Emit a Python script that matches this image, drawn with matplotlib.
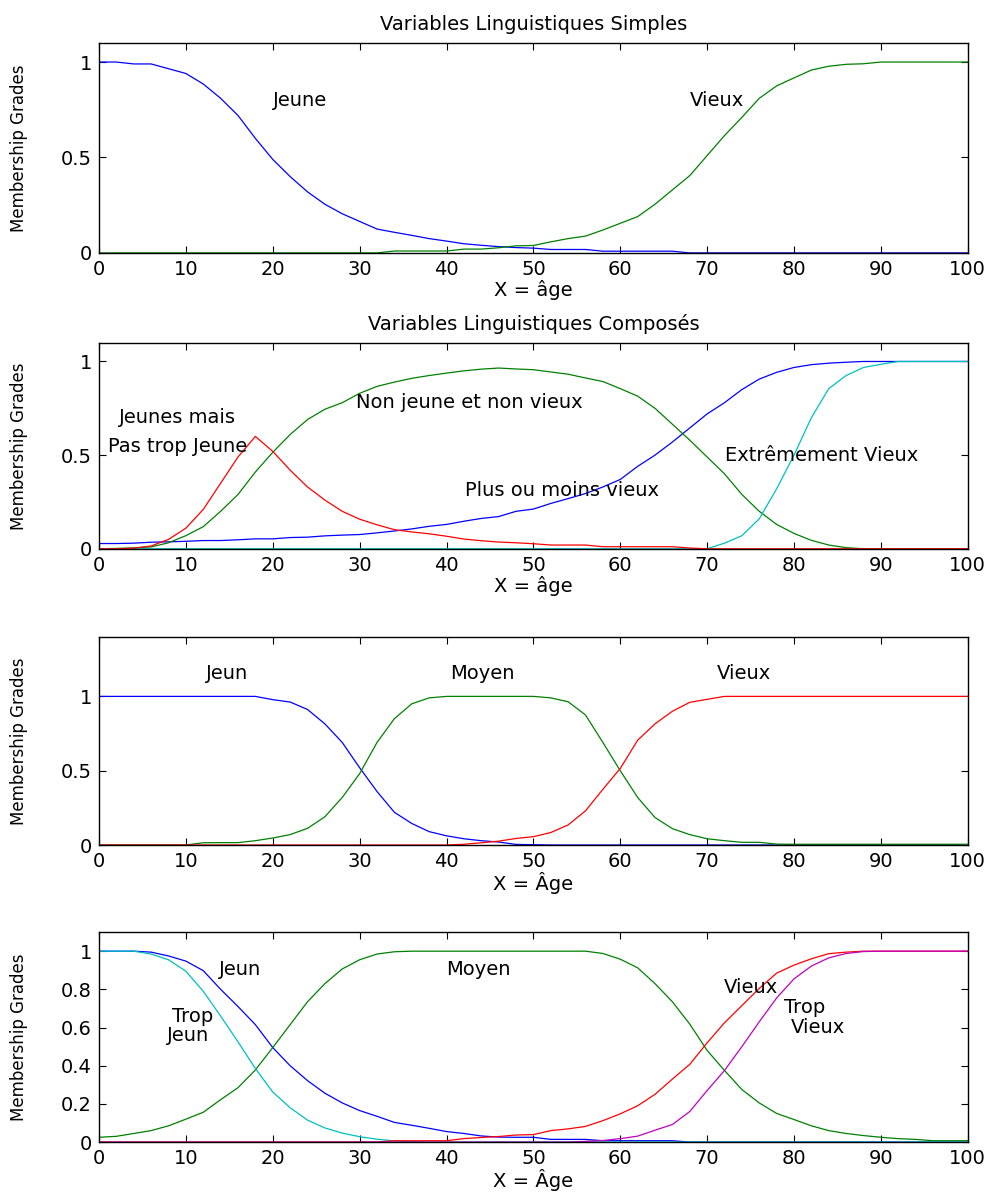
import numpy as np
import matplotlib.pyplot as plt

plt.rcParams['font.family'] = ['DejaVu Sans']

# abscisse commune (âge), lue tous les 2 ans
age = list(range(0, 101, 2))

# --- Variables linguistiques simples ---
jeune_1 = [1.0, 1.0, 0.99, 0.99, 0.965, 0.94, 0.885, 0.81, 0.72, 0.60, 0.49,
           0.40, 0.32, 0.255, 0.205, 0.165, 0.125, 0.108, 0.092, 0.075, 0.062,
           0.048, 0.04, 0.033, 0.028, 0.025, 0.018, 0.018, 0.018, 0.009, 0.009,
           0.009, 0.009, 0.009, 0.0, 0.0, 0.0, 0.0, 0.0, 0.0, 0.0,
           0.0, 0.0, 0.0, 0.0, 0.0, 0.0, 0.0, 0.0, 0.0, 0.0]
vieux_1 = [0.0, 0.0, 0.0, 0.0, 0.0, 0.0, 0.0, 0.0, 0.0, 0.0, 0.0,
           0.0, 0.0, 0.0, 0.0, 0.0, 0.0, 0.01, 0.01, 0.01, 0.01,
           0.02, 0.02, 0.027, 0.037, 0.039, 0.058, 0.075, 0.088, 0.12, 0.155,
           0.19, 0.255, 0.33, 0.405, 0.51, 0.615, 0.71, 0.81, 0.875, 0.917,
           0.958, 0.978, 0.988, 0.991, 1.0, 1.0, 1.0, 1.0, 1.0, 1.0]

# --- Variables linguistiques composées ---
pas_trop_jeune = [0.0, 0.0, 0.003, 0.015, 0.05, 0.11, 0.21, 0.35, 0.49, 0.60, 0.52,
                  0.42, 0.33, 0.26, 0.20, 0.158, 0.128, 0.102, 0.09, 0.08, 0.067,
                  0.052, 0.043, 0.036, 0.032, 0.027, 0.02, 0.02, 0.02, 0.011, 0.011,
                  0.011, 0.011, 0.011, 0.004, 0.0, 0.0, 0.0, 0.0, 0.0, 0.0,
                  0.0, 0.0, 0.0, 0.0, 0.0, 0.0, 0.0, 0.0, 0.0, 0.0]
non_jeune_non_vieux = [0.0, 0.002, 0.005, 0.01, 0.032, 0.07, 0.118, 0.2, 0.29, 0.41, 0.515,
                       0.61, 0.69, 0.745, 0.78, 0.83, 0.867, 0.89, 0.91, 0.925, 0.938,
                       0.95, 0.959, 0.965, 0.96, 0.956, 0.944, 0.932, 0.912, 0.893, 0.855,
                       0.815, 0.75, 0.665, 0.58, 0.49, 0.40, 0.29, 0.20, 0.13, 0.082,
                       0.045, 0.02, 0.006, 0.0, 0.0, 0.0, 0.0, 0.0, 0.0, 0.0]
plus_moins_vieux = [0.028, 0.028, 0.03, 0.035, 0.037, 0.04, 0.044, 0.044, 0.048, 0.053, 0.053,
                    0.06, 0.062, 0.069, 0.073, 0.076, 0.085, 0.095, 0.106, 0.12, 0.13,
                    0.147, 0.162, 0.172, 0.2, 0.212, 0.242, 0.268, 0.295, 0.33, 0.37,
                    0.44, 0.50, 0.57, 0.645, 0.72, 0.78, 0.85, 0.906, 0.942, 0.968,
                    0.983, 0.991, 0.996, 1.0, 1.0, 1.0, 1.0, 1.0, 1.0, 1.0]
extr_vieux = [0.0, 0.0, 0.0, 0.0, 0.0, 0.0, 0.0, 0.0, 0.0, 0.0, 0.0,
              0.0, 0.0, 0.0, 0.0, 0.0, 0.0, 0.0, 0.0, 0.0, 0.0,
              0.0, 0.0, 0.0, 0.0, 0.0, 0.0, 0.0, 0.0, 0.0, 0.0,
              0.0, 0.0, 0.0, 0.0, 0.0, 0.03, 0.07, 0.16, 0.32, 0.50,
              0.70, 0.855, 0.925, 0.968, 0.985, 1.0, 1.0, 1.0, 1.0, 1.0]

# --- Jeun / Moyen / Vieux ---
jeun_3 = [1.0, 1.0, 1.0, 1.0, 1.0, 1.0, 1.0, 1.0, 1.0, 1.0, 0.978,
          0.962, 0.912, 0.815, 0.69, 0.52, 0.36, 0.22, 0.145, 0.09, 0.062,
          0.042, 0.029, 0.02, 0.004, 0.002, 0.0, 0.0, 0.0, 0.0, 0.0,
          0.0, 0.0, 0.0, 0.0, 0.0, 0.0, 0.0, 0.0, 0.0, 0.0,
          0.0, 0.0, 0.0, 0.0, 0.0, 0.0, 0.0, 0.0, 0.0, 0.0]
moyen_3 = [0.0, 0.0, 0.0, 0.0, 0.0, 0.0, 0.015, 0.016, 0.016, 0.029, 0.047,
           0.07, 0.112, 0.19, 0.32, 0.48, 0.69, 0.85, 0.95, 0.99, 1.0,
           1.0, 1.0, 1.0, 1.0, 1.0, 0.99, 0.964, 0.875, 0.69, 0.5,
           0.32, 0.185, 0.11, 0.07, 0.042, 0.029, 0.018, 0.018, 0.006, 0.005,
           0.005, 0.005, 0.005, 0.005, 0.005, 0.005, 0.005, 0.005, 0.005, 0.005]
vieux_3 = [0.0, 0.0, 0.0, 0.0, 0.0, 0.0, 0.0, 0.0, 0.0, 0.0, 0.0,
           0.0, 0.0, 0.0, 0.0, 0.0, 0.0, 0.0, 0.0, 0.0, 0.0,
           0.005, 0.015, 0.026, 0.044, 0.056, 0.084, 0.135, 0.23, 0.375, 0.515,
           0.705, 0.815, 0.9, 0.96, 0.98, 1.0, 1.0, 1.0, 1.0, 1.0,
           1.0, 1.0, 1.0, 1.0, 1.0, 1.0, 1.0, 1.0, 1.0, 1.0]

# --- Jeun / Trop Jeun / Moyen / Vieux / Trop Vieux ---
jeun_4 = [1.0, 1.0, 1.0, 0.995, 0.975, 0.948, 0.898, 0.80, 0.71, 0.615, 0.495,
          0.40, 0.322, 0.256, 0.205, 0.165, 0.135, 0.103, 0.088, 0.072, 0.055,
          0.045, 0.032, 0.026, 0.025, 0.025, 0.014, 0.014, 0.014, 0.007, 0.007,
          0.007, 0.007, 0.007, 0.0, 0.0, 0.0, 0.0, 0.0, 0.0, 0.0,
          0.0, 0.0, 0.0, 0.0, 0.0, 0.0, 0.0, 0.0, 0.0, 0.0]
trop_jeun = [1.0, 1.0, 1.0, 0.985, 0.955, 0.895, 0.79, 0.66, 0.525, 0.385, 0.262,
             0.18, 0.115, 0.074, 0.047, 0.028, 0.015, 0.006, 0.002, 0.0, 0.0,
             0.0, 0.0, 0.0, 0.0, 0.0, 0.0, 0.0, 0.0, 0.0, 0.0,
             0.0, 0.0, 0.0, 0.0, 0.0, 0.0, 0.0, 0.0, 0.0, 0.0,
             0.0, 0.0, 0.0, 0.0, 0.0, 0.0, 0.0, 0.0, 0.0, 0.0]
moyen_4 = [0.025, 0.03, 0.045, 0.06, 0.085, 0.12, 0.156, 0.222, 0.285, 0.378, 0.495,
           0.615, 0.735, 0.83, 0.907, 0.955, 0.985, 0.997, 1.0, 1.0, 1.0,
           1.0, 1.0, 1.0, 1.0, 1.0, 1.0, 1.0, 1.0, 0.988, 0.958,
           0.913, 0.83, 0.735, 0.618, 0.48, 0.375, 0.275, 0.205, 0.15, 0.118,
           0.085, 0.06, 0.045, 0.034, 0.025, 0.018, 0.014, 0.007, 0.007, 0.007]
vieux_4 = [0.0, 0.0, 0.0, 0.0, 0.0, 0.0, 0.0, 0.0, 0.0, 0.0, 0.0,
           0.0, 0.0, 0.0, 0.0, 0.0, 0.0, 0.007, 0.007, 0.007, 0.007,
           0.018, 0.024, 0.029, 0.037, 0.039, 0.06, 0.069, 0.082, 0.112, 0.148,
           0.19, 0.25, 0.33, 0.407, 0.52, 0.625, 0.715, 0.805, 0.885, 0.927,
           0.96, 0.987, 0.995, 1.0, 1.0, 1.0, 1.0, 1.0, 1.0, 1.0]
trop_vieux = [0.0, 0.0, 0.0, 0.0, 0.0, 0.0, 0.0, 0.0, 0.0, 0.0, 0.0,
              0.0, 0.0, 0.0, 0.0, 0.0, 0.0, 0.0, 0.0, 0.0, 0.0,
              0.0, 0.0, 0.0, 0.0, 0.0, 0.0, 0.0, 0.0035, 0.008, 0.018,
              0.031, 0.062, 0.092, 0.16, 0.27, 0.375, 0.50, 0.63, 0.755, 0.855,
              0.922, 0.965, 0.988, 0.998, 1.0, 1.0, 1.0, 1.0, 1.0, 1.0]

BLEU = (0, 0, 1)
VERT = (0, 0.5, 0)
ROUGE = (1, 0, 0)
CYAN = (0, 0.75, 0.75)
MAGENTA = (0.75, 0, 0.75)
LW = 0.9
FS = 14


def preparer(ax, ymax, yticks, ytlabels, xlabel, titre=None):
    ax.set_xlim(0, 100)
    ax.set_ylim(0, ymax)
    ax.set_xticks(range(0, 101, 10))
    ax.set_yticks(yticks)
    ax.set_yticklabels(ytlabels)
    ax.tick_params(direction='in', top=True, right=True, length=5,
                   labelsize=FS, pad=5)
    for s in ax.spines.values():
        s.set_linewidth(1.0)
    ax.set_xlabel(xlabel, fontsize=FS, labelpad=1)
    ax.set_ylabel('Membership Grades', fontsize=12)
    ax.yaxis.set_label_coords(-0.082, 0.5)
    if titre:
        ax.set_title(titre, fontsize=FS, pad=9)


fig = plt.figure(figsize=(9.94, 11.93), dpi=100)
g, l = 0.0996, 0.874

ax1 = fig.add_axes([g, 0.788, l, 0.176])
ax1.plot(age, jeune_1, color=BLEU, lw=LW)
ax1.plot(age, vieux_1, color=VERT, lw=LW)
preparer(ax1, 1.1, [0, 0.5, 1], ['0', '0.5', '1'], 'X = âge',
         'Variables Linguistiques Simples')
ax1.text(20, 0.8, 'Jeune', fontsize=FS, va='center')
ax1.text(68, 0.8, 'Vieux', fontsize=FS, va='center')

ax2 = fig.add_axes([g, 0.540, l, 0.1727])
ax2.plot(age, plus_moins_vieux, color=BLEU, lw=LW)
ax2.plot(age, non_jeune_non_vieux, color=VERT, lw=LW)
ax2.plot(age, extr_vieux, color=CYAN, lw=LW)
ax2.plot(age, pas_trop_jeune, color=ROUGE, lw=LW)
preparer(ax2, 1.1, [0, 0.5, 1], ['0', '0.5', '1'], 'X = âge',
         'Variables Linguistiques Composés')
ax2.text(2.3, 0.70, 'Jeunes mais', fontsize=FS, va='center')
ax2.text(1.0, 0.548, 'Pas trop Jeune', fontsize=FS, va='center')
ax2.text(29.6, 0.78, 'Non jeune et non vieux', fontsize=FS, va='center')
ax2.text(42.1, 0.31, 'Plus ou moins vieux', fontsize=FS, va='center')
ax2.text(72.0, 0.5, 'Extrêmement Vieux', fontsize=FS, va='center')

ax3 = fig.add_axes([g, 0.2917, l, 0.1744])
ax3.plot(age, jeun_3, color=BLEU, lw=LW)
ax3.plot(age, moyen_3, color=VERT, lw=LW)
ax3.plot(age, vieux_3, color=ROUGE, lw=LW)
preparer(ax3, 1.4, [0, 0.5, 1], ['0', '0.5', '1'], 'X = Âge')
ax3.text(12.3, 1.155, 'Jeun', fontsize=FS, va='center')
ax3.text(40.4, 1.155, 'Moyen', fontsize=FS, va='center')
ax3.text(71.1, 1.155, 'Vieux', fontsize=FS, va='center')

ax4 = fig.add_axes([g, 0.0427, l, 0.176])
ax4.plot(age, jeun_4, color=BLEU, lw=LW)
ax4.plot(age, moyen_4, color=VERT, lw=LW)
ax4.plot(age, trop_jeun, color=CYAN, lw=LW)
ax4.plot(age, vieux_4, color=ROUGE, lw=LW)
ax4.plot(age, trop_vieux, color=MAGENTA, lw=LW)
preparer(ax4, 1.1, [0, 0.2, 0.4, 0.6, 0.8, 1],
         ['0', '0.2', '0.4', '0.6', '0.8', '1'], 'X = Âge')
ax4.text(13.8, 0.905, 'Jeun', fontsize=FS, va='center')
ax4.text(40.0, 0.905, 'Moyen', fontsize=FS, va='center')
ax4.text(8.4, 0.658, 'Trop', fontsize=FS, va='center')
ax4.text(7.8, 0.558, 'Jeun', fontsize=FS, va='center')
ax4.text(71.9, 0.81, 'Vieux', fontsize=FS, va='center')
ax4.text(78.8, 0.705, 'Trop', fontsize=FS, va='center')
ax4.text(79.6, 0.60, 'Vieux', fontsize=FS, va='center')

fig.savefig('out.png', dpi=100)
